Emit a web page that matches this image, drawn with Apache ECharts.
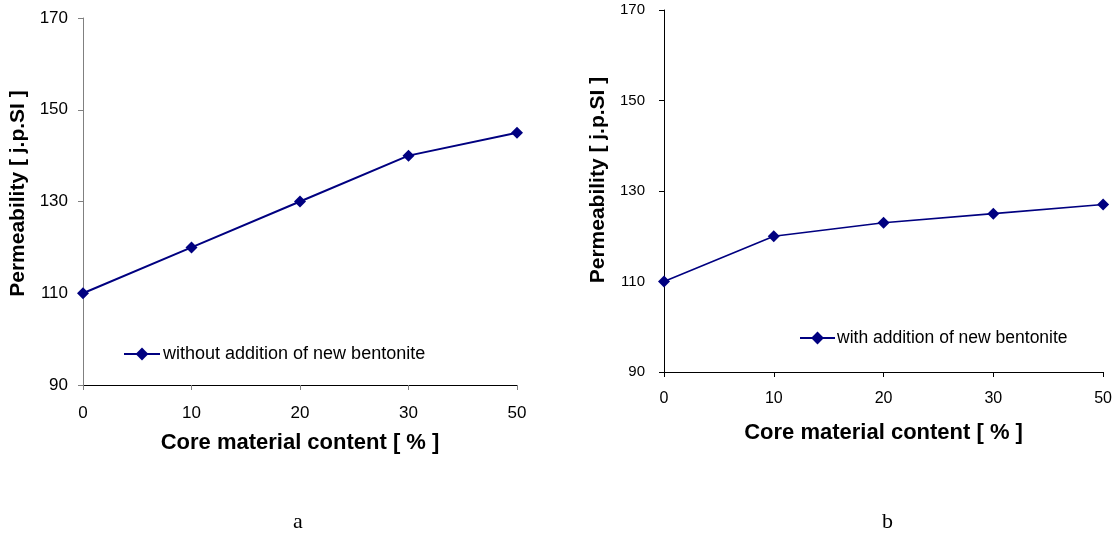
<!DOCTYPE html>
<html>
<head>
<meta charset="utf-8">
<script src="https://cdn.jsdelivr.net/npm/echarts@6/dist/echarts.min.js"></script>
<style>
html,body{margin:0;padding:0;background:#fff;}
#chart{width:1115px;height:534px;}
</style>
</head>
<body>
<div id="chart"></div>
<script>
const categories = ['0', '10', '20', '30', '50'];
const withoutBentonite = [110, 120, 130, 140, 145];
const withBentonite = [110, 120, 123, 125, 127];
const yMin = 90, yMax = 170, yStep = 20;
const seriesNames = ['without addition of new bentonite', 'with addition of new bentonite'];
const xTitle = 'Core material content [ % ]';
const yTitle = 'Permeability [ j.p.SI ]';
const panelLabels = ['a', 'b'];

const navy = '#000080';
const font = 'Liberation Sans, Arial, sans-serif';

const chart = echarts.init(document.getElementById('chart'), null, {renderer: 'canvas'});

function xAxisCfg(gridIndex, fs, labelMargin, nameGap, tickColor, lineColor) {
  return {
    type: 'category', gridIndex: gridIndex, data: categories, boundaryGap: false,
    axisLine: {show: true, lineStyle: {color: lineColor, width: 1}},
    axisTick: {show: true, inside: false, length: 5, alignWithLabel: true, lineStyle: {color: tickColor}},
    axisLabel: {fontFamily: font, fontSize: fs, color: '#000', margin: labelMargin},
    splitLine: {show: false},
    name: xTitle, nameLocation: 'middle', nameGap: nameGap,
    nameTextStyle: {fontFamily: font, fontSize: 22, fontWeight: 'bold', color: '#000'}
  };
}
function yAxisCfg(gridIndex, fs, labelMargin, nameGap, lineColor, shift) {
  return {
    type: 'value', gridIndex: gridIndex, min: yMin, max: yMax, interval: yStep,
    axisLine: {show: true, lineStyle: {color: lineColor, width: 1}},
    axisTick: {show: true, inside: false, length: 5, lineStyle: {color: lineColor}},
    axisLabel: {fontFamily: font, fontSize: fs, color: '#000', margin: labelMargin},
    splitLine: {show: false},
    name: yTitle, nameLocation: 'middle', nameGap: nameGap,
    nameTextStyle: {fontFamily: font, fontSize: 21, fontWeight: 'bold', color: '#000', padding: [0, 0, 0, shift]}
  };
}

const option = {
  animation: false,
  backgroundColor: '#fff',
  grid: [
    {left: 83, right: 1115 - 517, top: 18, bottom: 534 - 385},
    {left: 664, right: 1115 - 1104, top: 10, bottom: 534 - 372}
  ],
  xAxis: [
    xAxisCfg(0, 17, 20, 47, '#808080', '#000'),
    xAxisCfg(1, 16, 19, 50, '#000', '#000')
  ],
  yAxis: [
    yAxisCfg(0, 17, 15, 54, '#808080', 16),
    yAxisCfg(1, 15, 19, 55, '#000', 22)
  ],
  legend: [
    {
      data: [seriesNames[0]], left: 123, top: 345, padding: 0,
      itemWidth: 36, itemHeight: 16, itemGap: 10,
      textStyle: {fontFamily: font, fontSize: 18, color: '#000', padding: [0, 0, 0, -2]}
    },
    {
      data: [seriesNames[1]], left: 799, top: 329, padding: 0,
      itemWidth: 35, itemHeight: 16,
      textStyle: {fontFamily: font, fontSize: 17.5, color: '#000', padding: [0, 0, 0, -3]}
    }
  ],
  series: [
    {
      name: seriesNames[0], type: 'line', xAxisIndex: 0, yAxisIndex: 0,
      data: withoutBentonite, symbol: 'diamond', symbolSize: 12,
      lineStyle: {color: navy, width: 2}, itemStyle: {color: navy}
    },
    {
      name: seriesNames[1], type: 'line', xAxisIndex: 1, yAxisIndex: 1,
      data: withBentonite, symbol: 'diamond', symbolSize: 12,
      lineStyle: {color: navy, width: 1.6}, itemStyle: {color: navy}
    }
  ],
  graphic: [
    {type: 'text', left: 293, top: 511, style: {text: panelLabels[0], font: '22px "Liberation Serif", "Times New Roman", serif', fill: '#000'}},
    {type: 'text', left: 882, top: 511, style: {text: panelLabels[1], font: '22px "Liberation Serif", "Times New Roman", serif', fill: '#000'}}
  ]
};
chart.setOption(option);
</script>
</body>
</html>
